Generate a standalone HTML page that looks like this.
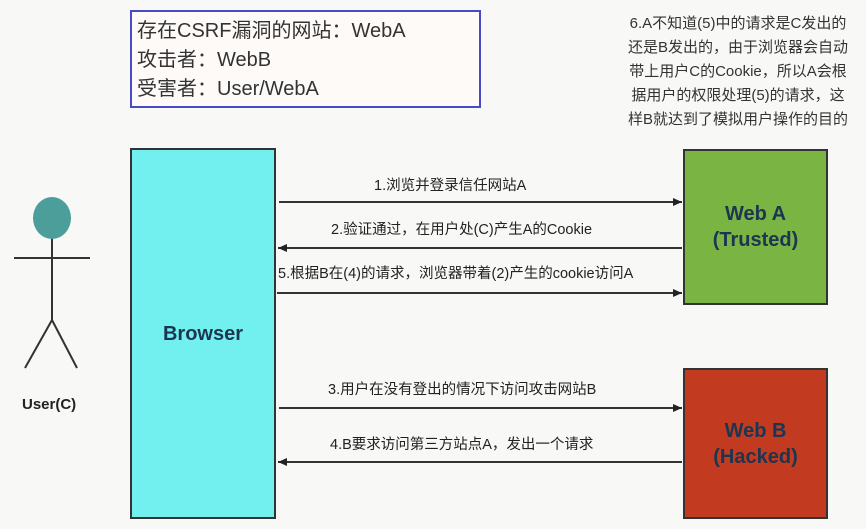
<!DOCTYPE html>
<html><head><meta charset="utf-8"><style>
body{margin:0;width:866px;height:529px;background:#f8f8f6;position:relative;overflow:hidden;font-family:"Liberation Sans","Noto Sans CJK SC",sans-serif;}
.a{position:absolute}
.box{position:absolute;border:2px solid #333;box-sizing:border-box;display:flex;align-items:center;justify-content:center;text-align:center;font-weight:bold;color:#1c3550;font-size:20px;line-height:26px}
.lbl{position:absolute;font-size:14.5px;color:#222;white-space:nowrap}
</style></head><body>
<div class="a" style="left:130px;top:10px;width:351px;height:98px;border:2px solid #4a4ac8;box-sizing:border-box;background:#fdfaf8;padding:5px 0 0 5px;font-size:20px;line-height:29px;color:#333">存在CSRF漏洞的网站：WebA<br>攻击者：WebB<br>受害者：User/WebA</div>
<div class="a" style="left:612px;top:12px;width:252px;font-size:15px;line-height:24px;color:#333;text-align:center;white-space:nowrap">6.A不知道(5)中的请求是C发出的<br>还是B发出的，由于浏览器会自动<br>带上用户C的Cookie，所以A会根<br>据用户的权限处理(5)的请求，这<br>样B就达到了模拟用户操作的目的</div>
<div class="box" style="left:130px;top:148px;width:146px;height:371px;background:#72f0f0">Browser</div>
<div class="box" style="left:683px;top:149px;width:145px;height:156px;background:#7ab443">Web A<br>(Trusted)</div>
<div class="box" style="left:683px;top:368px;width:145px;height:151px;background:#c23a1f">Web B<br>(Hacked)</div>
<svg class="a" style="left:0;top:0" width="866" height="529">
<defs><marker id="m" markerUnits="userSpaceOnUse" markerWidth="9" markerHeight="8" refX="9" refY="4" orient="auto"><path d="M0,0 L9,4 L0,8z" fill="#222"/></marker></defs>
<g stroke="#333" stroke-width="2" fill="none">
<line x1="279" y1="202" x2="682" y2="202" marker-end="url(#m)"/>
<line x1="682" y1="248" x2="278" y2="248" marker-end="url(#m)"/>
<line x1="277" y1="293" x2="682" y2="293" marker-end="url(#m)"/>
<line x1="279" y1="408" x2="682" y2="408" marker-end="url(#m)"/>
<line x1="682" y1="462" x2="278" y2="462" marker-end="url(#m)"/>
<line x1="52" y1="238" x2="52" y2="320"/>
<line x1="14" y1="258" x2="90" y2="258"/>
<line x1="52" y1="320" x2="25" y2="368"/>
<line x1="52" y1="320" x2="77" y2="368"/>
</g>
<ellipse cx="52" cy="218" rx="19" ry="21" fill="#4c9e9a"/>
</svg>
<div class="lbl" style="left:374px;top:174px">1.浏览并登录信任网站A</div>
<div class="lbl" style="left:331px;top:218px">2.验证通过，在用户处(C)产生A的Cookie</div>
<div class="lbl" style="left:278px;top:262px">5.根据B在(4)的请求，浏览器带着(2)产生的cookie访问A</div>
<div class="lbl" style="left:328px;top:378px">3.用户在没有登出的情况下访问攻击网站B</div>
<div class="lbl" style="left:330px;top:433px">4.B要求访问第三方站点A，发出一个请求</div>
<div class="lbl" style="left:22px;top:396px;font-weight:bold;font-size:15px">User(C)</div>
</body></html>
